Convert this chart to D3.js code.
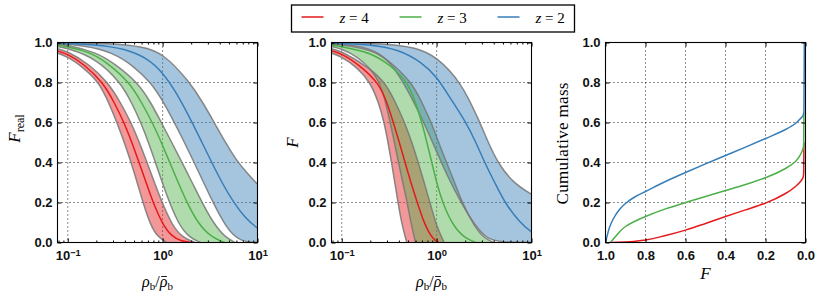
<!DOCTYPE html>
<html>
<head>
<meta charset="utf-8">
<script src="https://cdn.jsdelivr.net/npm/d3@7"></script>
<style>
  body { margin: 0; background: #fff; }
</style>
</head>
<body>
<svg id="chart" width="830" height="297"></svg>
<script>
// ---- data: [x, F] pairs ----
// left panel, F_real vs rho_b / mean rho_b
const realRedLo = [[0.07,0.955],[0.1,0.93],[0.15,0.87],[0.214,0.8],[0.27,0.7],[0.33,0.6],[0.395,0.5],[0.465,0.4],[0.54,0.3],[0.62,0.2],[0.74,0.09],[0.88,0.03],[1.1,0]];
const realRedMid = [[0.07,0.965],[0.1,0.943],[0.15,0.89],[0.235,0.8],[0.31,0.7],[0.392,0.6],[0.475,0.5],[0.564,0.4],[0.67,0.3],[0.792,0.2],[1.0,0.09],[1.25,0.03],[1.6,0.005],[2.0,0]];
const realRedHi = [[0.07,0.975],[0.1,0.957],[0.17,0.89],[0.266,0.8],[0.36,0.7],[0.465,0.6],[0.57,0.5],[0.685,0.4],[0.82,0.3],[0.986,0.2],[1.25,0.09],[1.6,0.025],[2.2,0]];
const realGreenLo = [[0.07,0.983],[0.1,0.972],[0.2,0.92],[0.36,0.8],[0.47,0.7],[0.59,0.6],[0.71,0.5],[0.84,0.4],[0.99,0.3],[1.18,0.2],[1.48,0.09],[1.9,0.025],[2.5,0]];
const realGreenMid = [[0.07,0.988],[0.1,0.98],[0.17,0.952],[0.26,0.9],[0.45,0.8],[0.6,0.7],[0.78,0.6],[0.97,0.5],[1.19,0.4],[1.46,0.3],[1.8,0.2],[2.4,0.09],[3.3,0.025],[4.5,0]];
const realGreenHi = [[0.07,0.993],[0.1,0.988],[0.2,0.95],[0.3,0.9],[0.55,0.8],[0.75,0.7],[0.97,0.6],[1.25,0.5],[1.6,0.4],[2.05,0.3],[2.6,0.2],[3.5,0.09],[4.6,0.025],[5.8,0]];
const realBlueLo = [[0.07,0.995],[0.15,0.985],[0.3,0.95],[0.5,0.88],[0.75,0.8],[1.0,0.71],[1.33,0.6],[1.7,0.5],[2.15,0.4],[2.7,0.3],[3.4,0.2],[4.6,0.08],[6.4,0],[12,0]];
const realBlueMid = [[0.07,0.998],[0.2,0.99],[0.4,0.97],[0.7,0.92],[1.0,0.85],[1.4,0.75],[2.05,0.6],[2.6,0.5],[3.3,0.4],[4.2,0.3],[5.6,0.2],[7.5,0.12],[10,0.07],[12,0.05]];
const realBlueHi = [[0.07,1.0],[0.3,0.995],[0.6,0.98],[1.0,0.95],[1.95,0.8],[2.65,0.7],[3.5,0.6],[4.6,0.5],[6.0,0.41],[8,0.34],[10,0.29],[12,0.26]];

// middle panel, F vs rho_b / mean rho_b
const redLo = [[0.07,0.955],[0.1,0.93],[0.15,0.87],[0.2,0.8],[0.245,0.7],[0.28,0.6],[0.308,0.5],[0.335,0.4],[0.362,0.3],[0.392,0.2],[0.43,0.09],[0.485,0]];
const redMid = [[0.07,0.965],[0.1,0.945],[0.15,0.89],[0.245,0.8],[0.3,0.7],[0.35,0.6],[0.405,0.5],[0.465,0.4],[0.535,0.3],[0.625,0.2],[0.76,0.08],[0.92,0.015],[1.05,0]];
const redHi = [[0.07,0.975],[0.1,0.958],[0.2,0.87],[0.286,0.8],[0.37,0.7],[0.46,0.6],[0.55,0.5],[0.64,0.4],[0.74,0.3],[0.85,0.2],[1.0,0.08],[1.2,0]];
const greenLo = [[0.07,0.983],[0.1,0.97],[0.15,0.925],[0.2,0.87],[0.253,0.8],[0.29,0.7],[0.324,0.6],[0.36,0.5],[0.396,0.4],[0.44,0.3],[0.49,0.2],[0.54,0.09],[0.6,0]];
const greenMid = [[0.07,0.988],[0.1,0.98],[0.2,0.95],[0.32,0.89],[0.5,0.8],[0.6,0.7],[0.7,0.6],[0.79,0.5],[0.89,0.4],[1.0,0.3],[1.15,0.2],[1.5,0.08],[2.0,0.02],[2.6,0]];
const greenHi = [[0.07,0.993],[0.1,0.99],[0.2,0.965],[0.3,0.92],[0.55,0.8],[0.7,0.7],[0.88,0.6],[1.05,0.5],[1.27,0.4],[1.55,0.3],[1.85,0.2],[2.5,0.08],[3.2,0.02],[4.0,0]];
const blueLo = [[0.07,0.997],[0.15,0.985],[0.25,0.95],[0.35,0.88],[0.5,0.76],[0.7,0.62],[0.95,0.48],[1.3,0.33],[1.9,0.18],[2.6,0.08],[3.3,0.025],[4.4,0],[12,0]];
const blueMid = [[0.07,0.998],[0.2,0.99],[0.4,0.965],[0.7,0.9],[1.0,0.83],[1.4,0.72],[2.05,0.6],[2.6,0.5],[3.2,0.4],[4.1,0.3],[5.2,0.2],[7.5,0.1],[10,0.05],[12,0.035]];
const blueHi = [[0.07,1.0],[0.3,0.995],[0.6,0.975],[1.0,0.93],[1.83,0.8],[2.86,0.6],[3.5,0.5],[4.4,0.4],[6.3,0.3],[10,0.24],[12,0.22]];

// right panel, cumulative mass vs F: [F, mass]
const massRed = [[0.97,0],[0.9,0.002],[0.85,0.006],[0.8,0.013],[0.7,0.035],[0.6,0.062],[0.5,0.095],[0.4,0.13],[0.3,0.163],[0.2,0.197],[0.1,0.245],[0.05,0.28],[0.025,0.305],[0.012,0.325],[0.009,0.35],[0.008,0.5]];
const massGreen = [[0.975,0],[0.95,0.03],[0.9,0.08],[0.8,0.13],[0.7,0.168],[0.6,0.2],[0.5,0.23],[0.4,0.26],[0.3,0.29],[0.2,0.324],[0.1,0.37],[0.05,0.405],[0.025,0.44],[0.012,0.47],[0.009,0.5],[0.008,0.65]];
const massBlue = [[1.0,0],[0.99,0.04],[0.98,0.075],[0.96,0.12],[0.93,0.165],[0.9,0.195],[0.85,0.23],[0.8,0.255],[0.7,0.305],[0.6,0.35],[0.5,0.393],[0.4,0.435],[0.3,0.477],[0.2,0.52],[0.1,0.565],[0.05,0.595],[0.025,0.62],[0.012,0.635],[0.008,0.66],[0.006,1.0]];

const zLabels = ['4', '3', '2'];
const colors = ['#e41a1c', '#4daf4a', '#377eb8'];
const yTicks = [0, 0.2, 0.4, 0.6, 0.8, 1.0];
const logTicks = [0.1, 1, 10];
const fTicks = [1.0, 0.8, 0.6, 0.4, 0.2, 0.0];

const svg = d3.select('#chart');
const W = 200, H = 200, plotTop = 42.5;
const lefts = [57.5, 331.5, 605.5];
const tickFont = '"Liberation Sans", Arial, sans-serif';
const serif = '"Liberation Serif", "DejaVu Serif", serif';

const y = d3.scaleLinear().domain([0, 1]).range([H, 0]);
const xLog = d3.scaleLog().domain([0.078, 10]).range([0, W]);
const xF = d3.scaleLinear().domain([1, 0]).range([0, W]);

let minor = [];
[0.01, 0.1, 1].forEach(d => { for (let k = 2; k <= 9; k++) minor.push(d * k); });
minor = minor.filter(v => v >= 0.078 && v <= 10);

function frame(i, x, isLog) {
  const g = svg.append('g').attr('transform', `translate(${lefts[i]},${plotTop})`);
  const clipId = 'clip' + i;
  g.append('clipPath').attr('id', clipId).append('rect').attr('width', W).attr('height', H);

  // dotted grid
  const grid = g.append('g').attr('stroke', '#000').attr('stroke-width', 0.9).attr('stroke-dasharray', '1,3');
  const xg = isLog ? [0.1, 1] : [0.8, 0.6, 0.4, 0.2];
  grid.selectAll('.gx').data(xg).join('line')
    .attr('x1', d => x(d)).attr('x2', d => x(d)).attr('y1', 0).attr('y2', H);
  grid.selectAll('.gy').data([0.2, 0.4, 0.6, 0.8]).join('line')
    .attr('x1', 0).attr('x2', W).attr('y1', d => y(d)).attr('y2', d => y(d));

  const plot = g.append('g').attr('clip-path', `url(#${clipId})`);
  return { g, plot };
}

function axes(g, x, isLog) {
  const style = a => a.call(s => s.select('.domain').remove())
    .call(s => s.selectAll('line').attr('stroke', '#000').attr('stroke-width', 1))
    .call(s => s.attr('font-family', tickFont).attr('font-size', 13).attr('font-weight', 'bold'))
    .call(s => s.selectAll('text').attr('fill', '#111'));

  const xt = isLog ? logTicks : fTicks;
  const bottom = g.append('g').attr('transform', `translate(0,${H})`)
    .call(d3.axisBottom(x).tickValues(xt).tickSize(-4).tickPadding(8)
      .tickFormat(isLog ? () => '' : d3.format('.1f')));
  style(bottom);
  g.append('g').call(d3.axisTop(x).tickValues(xt).tickSize(-4).tickFormat('')).call(style);
  if (isLog) {
    bottom.selectAll('.tick text').each(function (d) {
      const t = d3.select(this);
      t.append('tspan').text('10');
      t.append('tspan').attr('dy', '-0.42em').attr('font-size', '0.72em')
        .text(String(Math.round(Math.log10(d))).replace('-', '\u2212'));
    });
    g.append('g').attr('transform', `translate(0,${H})`)
      .call(d3.axisBottom(x).tickValues(minor).tickSize(-2).tickFormat('')).call(style);
    g.append('g').call(d3.axisTop(x).tickValues(minor).tickSize(-2).tickFormat('')).call(style);
  }
  g.append('g').call(d3.axisLeft(y).tickValues(yTicks).tickSize(-4).tickPadding(5)
    .tickFormat(d3.format('.1f'))).call(style);
  g.append('g').attr('transform', `translate(${W},0)`)
    .call(d3.axisRight(y).tickValues(yTicks).tickSize(-4).tickFormat('')).call(style);

  g.append('rect').attr('width', W).attr('height', H)
    .attr('fill', 'none').attr('stroke', '#000').attr('stroke-width', 1.1);
}

const lineLog = d3.line().x(d => xLog(d[0])).y(d => y(d[1])).curve(d3.curveBasis);

function bandPanel(i, series) {
  const { g, plot } = frame(i, xLog, true);
  // fills first, then edges, then centre lines
  series.forEach((s, k) => {
    const hi = lineLog(s.hi);
    const lo = lineLog(s.lo.slice().reverse()).replace(/^M/, 'L');
    plot.append('path').attr('d', hi + lo + 'Z')
      .attr('fill', colors[k]).attr('fill-opacity', 0.45).attr('stroke', 'none');
  });
  series.forEach(s => {
    [s.lo, s.hi].forEach(c => plot.append('path').attr('d', lineLog(c))
      .attr('fill', 'none').attr('stroke', '#777').attr('stroke-opacity', 0.85).attr('stroke-width', 1.5));
  });
  series.forEach((s, k) => {
    plot.append('path').attr('d', lineLog(s.mid))
      .attr('fill', 'none').attr('stroke', colors[k]).attr('stroke-width', 1.5);
  });
  axes(g, xLog, true);
  return g;
}

const g1 = bandPanel(0, [
  { lo: realRedLo, mid: realRedMid, hi: realRedHi },
  { lo: realGreenLo, mid: realGreenMid, hi: realGreenHi },
  { lo: realBlueLo, mid: realBlueMid, hi: realBlueHi }
]);
const g2 = bandPanel(1, [
  { lo: redLo, mid: redMid, hi: redHi },
  { lo: greenLo, mid: greenMid, hi: greenHi },
  { lo: blueLo, mid: blueMid, hi: blueHi }
]);

// right panel
const p3 = frame(2, xF, false);
const lineMass = d3.line().x(d => xF(d[0])).y(d => y(d[1])).curve(d3.curveMonotoneY);
[massRed, massGreen, massBlue].forEach((s, k) => {
  p3.plot.append('path').attr('d', lineMass(s))
    .attr('fill', 'none').attr('stroke', colors[k]).attr('stroke-width', 1.5);
});
axes(p3.g, xF, false);

// axis labels
function rhoLabel(g) {
  const t = g.append('text').attr('x', W / 2).attr('y', H + 44)
    .attr('text-anchor', 'middle').attr('font-family', serif).attr('font-size', 16);
  t.append('tspan').attr('font-style', 'italic').text('ρ');
  t.append('tspan').attr('font-size', 11).attr('dy', 3).text('b');
  t.append('tspan').attr('dy', -3).text('/');
  t.append('tspan').attr('font-style', 'italic').text('ρ');
  t.append('tspan').attr('font-size', 11).attr('dy', 3).text('b');
  const e = t.node().getExtentOfChar(3);
  g.append('line').attr('x1', e.x + 1.5).attr('x2', e.x + e.width - 0.5)
    .attr('y1', e.y + 4).attr('y2', e.y + 4).attr('stroke', '#000').attr('stroke-width', 0.9);
}
rhoLabel(g1);
rhoLabel(g2);

const yl1 = g1.append('text').attr('transform', `translate(-38,${H / 2 - 14}) rotate(-90)`)
  .attr('text-anchor', 'middle').attr('font-family', serif).attr('font-size', 17);
yl1.append('tspan').attr('font-style', 'italic').text('F');
yl1.append('tspan').attr('font-size', 12).attr('dy', 4).text('real');

g2.append('text').attr('transform', `translate(-34,${H / 2}) rotate(-90)`)
  .attr('text-anchor', 'middle').attr('font-family', serif).attr('font-size', 17)
  .attr('font-style', 'italic').text('F');

p3.g.append('text').attr('transform', `translate(-38,${H / 2 + 1}) rotate(-90)`)
  .attr('text-anchor', 'middle').attr('font-family', serif).attr('font-size', 17)
  .attr('textLength', 122).attr('lengthAdjust', 'spacing')
  .text('Cumulative mass');
p3.g.append('text').attr('x', W / 2).attr('y', H + 36)
  .attr('text-anchor', 'middle').attr('font-family', serif).attr('font-size', 17)
  .attr('font-style', 'italic').text('F');

// legend
const leg = svg.append('g').attr('transform', 'translate(291.5,5)');
leg.append('rect').attr('width', 283).attr('height', 27)
  .attr('fill', '#fff').attr('stroke', '#000').attr('stroke-width', 1.3);
zLabels.forEach((z, k) => {
  const e = leg.append('g').attr('transform', `translate(${10 + k * 98},0)`);
  e.append('line').attr('x1', 0).attr('x2', 22).attr('y1', 12).attr('y2', 12)
    .attr('stroke', colors[k]).attr('stroke-width', 1.5);
  const t = e.append('text').attr('x', 38).attr('y', 18).attr('font-family', serif).attr('font-size', 15);
  t.append('tspan').attr('font-style', 'italic').text('z');
  t.append('tspan').text(' = ' + z);
});
</script>
</body>
</html>
